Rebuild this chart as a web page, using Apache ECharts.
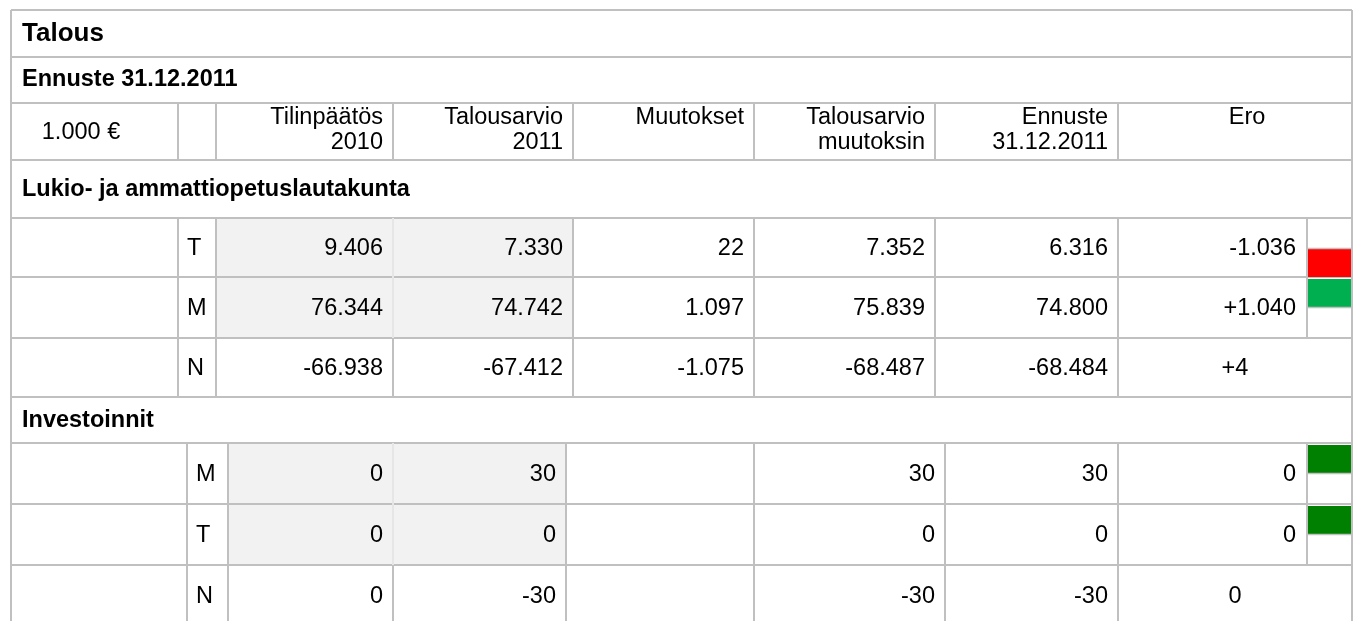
<!DOCTYPE html>
<html>
<head>
<meta charset="utf-8">
<script src="https://cdn.jsdelivr.net/npm/echarts@6/dist/echarts.min.js"></script>
<style>
  html, body { margin: 0; background: #fff; }
  #main { width: 1360px; height: 621px; }
</style>
</head>
<body>
<div id="main"></div>
<script>
// ---- data ----
var tableTitle = 'Talous';
var forecastTitle = 'Ennuste 31.12.2011';
var unitLabel = '1.000 €';
var columnNames = ['Tilinpäätös\n2010', 'Talousarvio\n2011', 'Muutokset', 'Talousarvio\nmuutoksin', 'Ennuste\n31.12.2011', 'Ero'];

var lukioName = 'Lukio- ja ammattiopetuslautakunta';
var lukioRows = ['T', 'M', 'N'];
var lukioTp2010 = [9406, 76344, -66938];
var lukioTa2011 = [7330, 74742, -67412];
var lukioMuutokset = [22, 1097, -1075];
var lukioTaMuut = [7352, 75839, -68487];
var lukioEnnuste = [6316, 74800, -68484];
var lukioEro = [-1036, 1040, 4];
var lukioStatus = ['bad', 'good', null];

var invName = 'Investoinnit';
var invRows = ['M', 'T', 'N'];
var invTp2010 = [0, 0, 0];
var invTa2011 = [30, 0, -30];
var invMuutokset = [null, null, null];
var invTaMuut = [30, 0, -30];
var invEnnuste = [30, 0, -30];
var invEro = [0, 0, 0];
var invStatus = ['ok', 'ok', null];

// ---- layout ----
var W = 1360, H = 621;
var LEFT = 11, RIGHT = 1352;
var rowY = [10, 57, 103, 160, 218, 277, 338, 397, 443, 504, 565, 626];
var lukioCols = [11, 178, 216, 393, 573, 754, 935, 1118, 1307, 1352];
var invCols = [11, 187, 228, 393, 566, 754, 945, 1118, 1307, 1352];
var eroHeadX = 1247;
var LINE = '#c0c0c0', SHADE = '#f2f2f2', FAINT = '#e6e6e6';
var statusColor = { bad: '#ff0000', good: '#00b050', ok: '#008000' };
var FONT = '"Liberation Sans", Arial, sans-serif';

function fmt(v) {
    if (v === null) return '';
    var s = String(Math.abs(v)).replace(/\B(?=(\d{3})+(?!\d))/g, '.');
    return (v < 0 ? '-' : '') + s;
}
function fmtEro(v) { return (v > 0 ? '+' : '') + fmt(v); }

var fills = [], lines = [], flags = [], texts = [];
function hLine(y, x0, x1, c) { lines.push({ value: [x0, y, x1, y], color: c || LINE }); }
function vLine(x, y0, y1, c) { lines.push({ value: [x, y0, x, y1], color: c || LINE }); }
function label(x, y, text, align, vAlign, size, weight) {
    texts.push({ value: [x, y], text: text, align: align, vAlign: vAlign, size: size, weight: weight || 'normal' });
}

// title rows + column header
hLine(rowY[0], LEFT, RIGHT);
label(22, (rowY[0] + rowY[1]) / 2, tableTitle, 'left', 'middle', 26, 'bold');
hLine(rowY[1], LEFT, RIGHT);
label(22, (rowY[1] + rowY[2]) / 2, forecastTitle, 'left', 'middle', 23.5, 'bold');
hLine(rowY[2], LEFT, RIGHT);
for (var c = 1; c <= 7; c++) vLine(lukioCols[c], rowY[2], rowY[3]);
label(81, (rowY[2] + rowY[3]) / 2 + 1, unitLabel, 'center', 'middle', 23.5);
for (var k = 0; k < columnNames.length; k++) {
    if (k < 5) label(lukioCols[k + 3] - 10, rowY[2] + 2.5, columnNames[k], 'right', 'top', 23.5);
    else label(eroHeadX, rowY[2] + 2.5, columnNames[k], 'center', 'top', 23.5);
}
hLine(rowY[3], LEFT, RIGHT);

function addSection(top, name, cols, rows, data, ero, status) {
    label(22, (rowY[top] + rowY[top + 1]) / 2 + 0.5, name, 'left', 'middle', 23.5, 'bold');
    hLine(rowY[top + 1], LEFT, RIGHT);
    fills.push({ value: [cols[2], rowY[top + 1], cols[4], rowY[top + 3]], color: SHADE });
    for (var r = 0; r < rows.length; r++) {
        var y0 = rowY[top + 1 + r], y1 = rowY[top + 2 + r], cy = (y0 + y1) / 2 + 1;
        var last = status[r] === null;
        hLine(y1, LEFT, RIGHT);
        for (var c = 1; c <= 7; c++) vLine(cols[c], y0, y1, (c === 3 && !last) ? FAINT : LINE);
        label(cols[1] + 9, cy, rows[r], 'left', 'middle', 23.5);
        for (var k = 0; k < data.length; k++) label(cols[k + 3] - 10, cy, fmt(data[k][r]), 'right', 'middle', 23.5);
        if (last) {
            label((cols[7] + cols[9]) / 2, cy, fmtEro(ero[r]), 'center', 'middle', 23.5);
        } else {
            vLine(cols[8], y0, y1);
            label(cols[8] - 11, cy, fmtEro(ero[r]), 'right', 'middle', 23.5);
            var bad = status[r] === 'bad';
            flags.push({
                value: [cols[8] + 1, bad ? y1 - 28 : y0 + 2, cols[9] - 1, bad ? y1 : y0 + 30],
                color: statusColor[status[r]], edge: bad ? 'top' : 'bottom'
            });
        }
    }
}
addSection(3, lukioName, lukioCols, lukioRows,
    [lukioTp2010, lukioTa2011, lukioMuutokset, lukioTaMuut, lukioEnnuste], lukioEro, lukioStatus);
addSection(7, invName, invCols, invRows,
    [invTp2010, invTa2011, invMuutokset, invTaMuut, invEnnuste], invEro, invStatus);

vLine(LEFT, rowY[0], H);
vLine(RIGHT, rowY[0], H);

function vals(list) { return list.map(function (d) { return d.value; }); }

var myChart = echarts.init(document.getElementById('main'));
myChart.setOption({
    animation: false,
    grid: { left: 0, right: 0, top: 0, bottom: 0 },
    xAxis: { type: 'value', min: 0, max: W, show: false },
    yAxis: { type: 'value', min: 0, max: H, inverse: true, show: false },
    series: [{
        type: 'custom', z: 1, silent: true,
        data: vals(fills),
        renderItem: function (params, api) {
            var a = api.coord([api.value(0), api.value(1)]), b = api.coord([api.value(2), api.value(3)]);
            return { type: 'rect', shape: { x: a[0], y: a[1], width: b[0] - a[0], height: b[1] - a[1] },
                style: { fill: fills[params.dataIndex].color } };
        }
    }, {
        type: 'custom', z: 2, silent: true,
        data: vals(lines),
        renderItem: function (params, api) {
            var a = api.coord([api.value(0), api.value(1)]), b = api.coord([api.value(2), api.value(3)]);
            return { type: 'line', shape: { x1: a[0], y1: a[1], x2: b[0], y2: b[1] },
                style: { stroke: lines[params.dataIndex].color, lineWidth: 2 } };
        }
    }, {
        type: 'custom', z: 3, silent: true,
        data: vals(flags),
        renderItem: function (params, api) {
            var f = flags[params.dataIndex];
            var a = api.coord([api.value(0), api.value(1)]), b = api.coord([api.value(2), api.value(3)]);
            var ey = f.edge === 'top' ? a[1] - 0.5 : b[1] + 0.5;
            return { type: 'group', children: [
                { type: 'rect', shape: { x: a[0], y: a[1], width: b[0] - a[0], height: b[1] - a[1] }, style: { fill: f.color } },
                { type: 'line', shape: { x1: a[0], y1: ey, x2: b[0], y2: ey }, style: { stroke: LINE, lineWidth: 1.5 } }
            ] };
        }
    }, {
        type: 'custom', z: 4, silent: true,
        data: vals(texts),
        renderItem: function (params, api) {
            var t = texts[params.dataIndex];
            var p = api.coord([api.value(0), api.value(1)]);
            return { type: 'text', x: p[0], y: p[1], style: {
                text: t.text, fill: '#000', fontSize: t.size, fontWeight: t.weight, fontFamily: FONT,
                align: t.align, verticalAlign: t.vAlign, lineHeight: 25 } };
        }
    }]
});
</script>
</body>
</html>
